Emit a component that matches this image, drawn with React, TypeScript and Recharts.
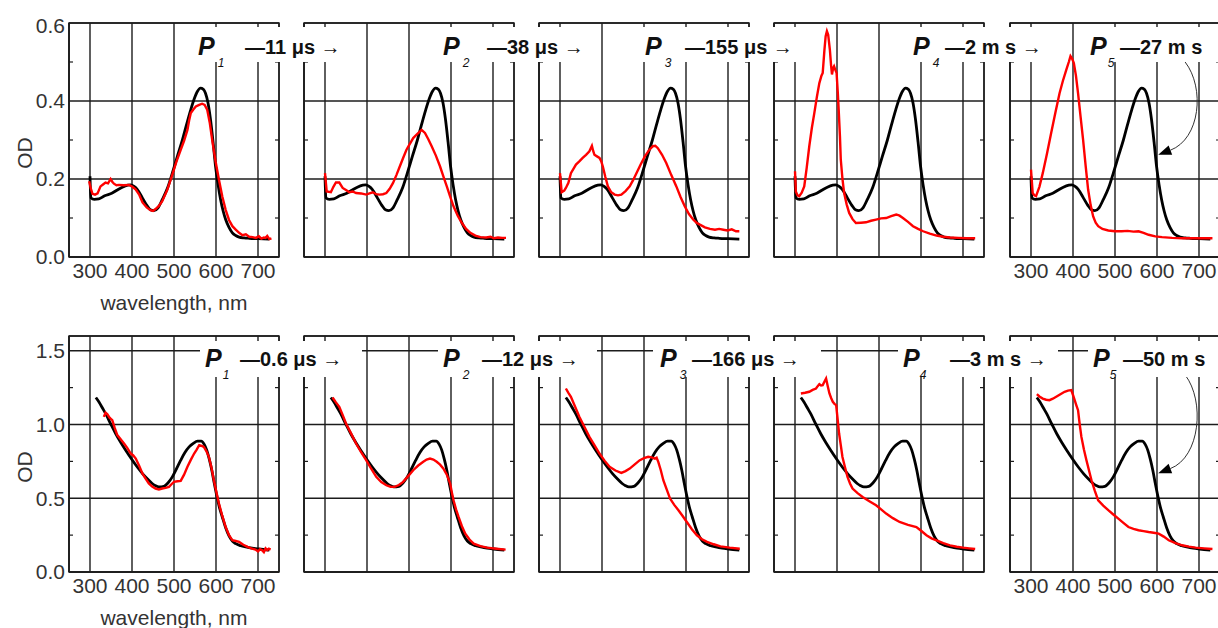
import React from 'react';
import {
  LineChart,
  Line,
  XAxis,
  YAxis,
  CartesianGrid,
  ReferenceArea,
  ReferenceLine,
} from 'recharts';

// ---------------- data ----------------
const wavelengthTicks = [300, 400, 500, 600, 700];
const topYTicks = [0, 0.2, 0.4, 0.6];
const bottomYTicks = [0, 0.5, 1.0, 1.5];
const topMinorTicks = [0.1, 0.3, 0.5];
const bottomMinorTicks = [0.25, 0.75, 1.25];

const productSubs = ['1', '2', '3', '4', '5'];
const topTimes = ['11 μs →', '38 μs →', '155 μs →', '2 m s →', '27 m s'];
const bottomTimes = ['0.6 μs →', '12 μs →', '166 μs →', '3 m s →', '50 m s'];

// reference (black) spectrum, top row
const blackTop = [
  [300, 0.207], [302, 0.152], [310, 0.148], [321, 0.149], [335, 0.157], [353, 0.164],
  [365, 0.172], [377, 0.179], [390, 0.184], [397, 0.185], [405, 0.181], [412, 0.174],
  [425, 0.151], [435, 0.133], [444, 0.121], [452, 0.119], [462, 0.126], [472, 0.147],
  [485, 0.178], [496, 0.215], [508, 0.258], [520, 0.3], [530, 0.34], [540, 0.378],
  [548, 0.405], [556, 0.425], [563, 0.433], [570, 0.43], [575, 0.42], [581, 0.395],
  [587, 0.352], [593, 0.295], [599, 0.232], [605, 0.185], [611, 0.147], [617, 0.118],
  [623, 0.096], [631, 0.076], [639, 0.062], [647, 0.055], [655, 0.051], [667, 0.049],
  [679, 0.048], [700, 0.047], [727, 0.046],
];

// reference (black) spectrum, bottom row
const blackBottom = [
  [314, 1.183], [321, 1.154], [330, 1.11], [337, 1.075], [350, 1.0], [361, 0.939],
  [373, 0.88], [385, 0.826], [401, 0.758], [413, 0.71], [425, 0.667], [437, 0.63],
  [448, 0.6], [456, 0.585], [464, 0.577], [476, 0.581], [486, 0.605], [496, 0.645],
  [506, 0.7], [516, 0.758], [526, 0.81], [536, 0.848], [546, 0.872], [556, 0.887],
  [565, 0.887], [572, 0.865], [578, 0.826], [584, 0.765], [590, 0.69], [596, 0.6],
  [602, 0.515], [608, 0.44], [615, 0.373], [623, 0.3], [631, 0.245], [639, 0.21],
  [647, 0.192], [659, 0.178], [671, 0.17], [686, 0.162], [702, 0.156], [727, 0.148],
];

// transient (red) spectra, top row
const redTop1 = [
  [298, 0.194], [302, 0.175], [306, 0.162], [312, 0.16], [318, 0.163], [325, 0.181],
  [331, 0.186], [337, 0.191], [343, 0.189], [349, 0.2], [353, 0.193], [357, 0.188],
  [363, 0.184], [369, 0.185], [380, 0.184], [393, 0.185], [401, 0.18], [409, 0.173],
  [417, 0.16], [425, 0.14], [435, 0.127], [444, 0.12], [450, 0.118], [456, 0.123],
  [464, 0.131], [472, 0.143], [484, 0.172], [496, 0.211], [506, 0.245], [516, 0.275],
  [524, 0.298], [532, 0.326], [536, 0.35], [540, 0.369], [546, 0.378], [552, 0.386],
  [560, 0.39], [567, 0.393], [573, 0.39], [579, 0.378], [585, 0.345], [591, 0.3],
  [599, 0.245], [607, 0.198], [615, 0.155], [623, 0.121], [631, 0.095], [639, 0.079],
  [647, 0.07], [655, 0.062], [663, 0.056], [671, 0.058], [679, 0.052], [687, 0.051],
  [695, 0.049], [702, 0.053], [708, 0.047], [714, 0.05], [718, 0.049], [722, 0.054],
  [727, 0.046], [732, 0.048],
];
const redTop2 = [
  [300, 0.215], [304, 0.168], [314, 0.166], [320, 0.18], [326, 0.191], [334, 0.191],
  [342, 0.177], [350, 0.172], [358, 0.166], [366, 0.168], [374, 0.164], [386, 0.163],
  [398, 0.16], [406, 0.163], [414, 0.166], [422, 0.161], [430, 0.16], [438, 0.161],
  [446, 0.164], [454, 0.175], [462, 0.19], [470, 0.21], [478, 0.232], [486, 0.254],
  [494, 0.275], [502, 0.29], [510, 0.305], [520, 0.316], [530, 0.326], [538, 0.318],
  [546, 0.302], [554, 0.284], [564, 0.26], [574, 0.232], [582, 0.206], [590, 0.181],
  [598, 0.155], [606, 0.13], [616, 0.106], [626, 0.087], [636, 0.072], [646, 0.062],
  [658, 0.055], [670, 0.051], [684, 0.05], [694, 0.052], [702, 0.048], [712, 0.05],
  [722, 0.049], [731, 0.049],
];
const redTop3 = [
  [300, 0.215], [304, 0.166], [310, 0.17], [314, 0.177], [320, 0.19], [326, 0.215],
  [332, 0.226], [338, 0.237], [346, 0.245], [354, 0.254], [362, 0.262], [370, 0.271],
  [376, 0.285], [379, 0.272], [382, 0.262], [388, 0.258], [394, 0.254], [398, 0.246],
  [402, 0.232], [408, 0.205], [414, 0.181], [422, 0.166], [430, 0.16], [438, 0.158],
  [446, 0.16], [456, 0.169], [466, 0.181], [474, 0.197], [482, 0.215], [492, 0.237],
  [502, 0.258], [512, 0.274], [521, 0.284], [527, 0.285], [533, 0.279], [543, 0.262],
  [553, 0.241], [565, 0.21], [577, 0.181], [587, 0.154], [597, 0.13], [607, 0.11],
  [617, 0.096], [625, 0.088], [633, 0.083], [645, 0.076], [657, 0.072], [669, 0.07],
  [679, 0.072], [689, 0.07], [699, 0.068], [709, 0.071], [719, 0.066], [727, 0.066],
];
const redTop4 = [
  [300, 0.22], [302, 0.168], [306, 0.158], [310, 0.156], [316, 0.165], [322, 0.181],
  [328, 0.23], [334, 0.284], [340, 0.33], [346, 0.369], [352, 0.41], [358, 0.446],
  [363, 0.465], [366, 0.472], [370, 0.53], [373, 0.566], [376, 0.579], [379, 0.57],
  [383, 0.532], [386, 0.49], [388, 0.468], [391, 0.485], [393, 0.489], [396, 0.48],
  [399, 0.472], [402, 0.42], [404, 0.378], [407, 0.31], [409, 0.25], [413, 0.2],
  [417, 0.164], [423, 0.135], [429, 0.113], [437, 0.097], [445, 0.087], [457, 0.088],
  [469, 0.089], [481, 0.093], [493, 0.096], [505, 0.099], [517, 0.1], [529, 0.105],
  [541, 0.109], [549, 0.106], [557, 0.1], [569, 0.09], [581, 0.079], [593, 0.072],
  [605, 0.066], [621, 0.06], [637, 0.055], [653, 0.052], [669, 0.05], [689, 0.049],
  [709, 0.048], [729, 0.048],
];
const redTop5 = [
  [300, 0.224], [304, 0.164], [308, 0.158], [312, 0.156], [320, 0.18], [328, 0.215],
  [338, 0.265], [348, 0.318], [358, 0.37], [368, 0.42], [376, 0.452], [384, 0.48],
  [390, 0.5], [394, 0.515], [398, 0.508], [402, 0.497], [407, 0.465], [412, 0.42],
  [418, 0.36], [424, 0.301], [430, 0.235], [436, 0.173], [442, 0.133], [448, 0.104],
  [454, 0.088], [460, 0.079], [470, 0.072], [484, 0.068], [500, 0.066], [516, 0.066],
  [530, 0.067], [544, 0.065], [556, 0.066], [568, 0.062], [580, 0.057], [596, 0.053],
  [612, 0.051], [636, 0.049], [660, 0.048], [690, 0.048], [712, 0.048], [732, 0.048],
];

// transient (red) spectra, bottom row
const redBottom1 = [
  [333, 1.052], [337, 1.08], [341, 1.07], [347, 1.045], [353, 1.029], [359, 0.975],
  [365, 0.928], [373, 0.9], [381, 0.871], [389, 0.84], [397, 0.803], [403, 0.79],
  [409, 0.769], [417, 0.72], [425, 0.667], [432, 0.635], [440, 0.6], [448, 0.58],
  [456, 0.566], [464, 0.56], [472, 0.566], [480, 0.57], [488, 0.577], [494, 0.595],
  [500, 0.611], [508, 0.615], [516, 0.618], [524, 0.66], [532, 0.713], [540, 0.76],
  [548, 0.803], [554, 0.83], [560, 0.86], [566, 0.855], [571, 0.848], [577, 0.82],
  [583, 0.781], [589, 0.71], [595, 0.622], [601, 0.54], [607, 0.464], [615, 0.38],
  [623, 0.305], [631, 0.25], [639, 0.215], [647, 0.21], [655, 0.204], [665, 0.185],
  [675, 0.17], [684, 0.16], [694, 0.152], [700, 0.14], [705, 0.155], [710, 0.147],
  [714, 0.135], [718, 0.16], [722, 0.148], [726, 0.158], [730, 0.152],
];
const redBottom2 = [
  [318, 1.183], [326, 1.15], [334, 1.12], [342, 1.065], [350, 1.007], [362, 0.94],
  [374, 0.871], [386, 0.812], [398, 0.758], [410, 0.7], [422, 0.645], [434, 0.61],
  [446, 0.588], [456, 0.578], [466, 0.577], [476, 0.59], [486, 0.611], [498, 0.65],
  [510, 0.69], [522, 0.722], [534, 0.747], [542, 0.762], [550, 0.769], [558, 0.762],
  [566, 0.747], [574, 0.728], [582, 0.701], [590, 0.66], [598, 0.6], [602, 0.54],
  [606, 0.486], [612, 0.425], [618, 0.373], [626, 0.31], [634, 0.26], [644, 0.22],
  [654, 0.192], [670, 0.175], [686, 0.165], [708, 0.158], [730, 0.152],
];
const redBottom3 = [
  [314, 1.244], [320, 1.215], [326, 1.188], [336, 1.12], [346, 1.052], [358, 0.985],
  [370, 0.916], [382, 0.86], [394, 0.803], [406, 0.755], [418, 0.713], [432, 0.688],
  [446, 0.672], [456, 0.684], [466, 0.701], [478, 0.73], [490, 0.758], [500, 0.772],
  [510, 0.781], [518, 0.777], [526, 0.769], [530, 0.775], [534, 0.747], [540, 0.69],
  [546, 0.622], [554, 0.56], [562, 0.498], [572, 0.455], [582, 0.419], [592, 0.38],
  [602, 0.339], [614, 0.29], [626, 0.249], [638, 0.222], [650, 0.204], [666, 0.188],
  [682, 0.174], [704, 0.165], [728, 0.158],
];
const redBottom4 = [
  [314, 1.21], [324, 1.215], [334, 1.222], [342, 1.235], [350, 1.244], [354, 1.26],
  [358, 1.274], [362, 1.265], [366, 1.267], [370, 1.29], [374, 1.312], [378, 1.26],
  [382, 1.21], [386, 1.18], [390, 1.154], [394, 1.14], [398, 1.131], [401, 1.05],
  [405, 0.939], [409, 0.86], [413, 0.78], [419, 0.71], [425, 0.645], [431, 0.6],
  [437, 0.566], [449, 0.535], [461, 0.509], [477, 0.48], [493, 0.452], [505, 0.425],
  [517, 0.396], [533, 0.365], [549, 0.339], [569, 0.32], [589, 0.305], [601, 0.278],
  [613, 0.249], [625, 0.228], [637, 0.215], [653, 0.196], [669, 0.181], [685, 0.171],
  [700, 0.165], [715, 0.16], [729, 0.156],
];
const redBottom5 = [
  [314, 1.206], [320, 1.19], [328, 1.176], [336, 1.168], [344, 1.165], [352, 1.175],
  [360, 1.188], [370, 1.205], [380, 1.222], [388, 1.23], [396, 1.233], [400, 1.2],
  [404, 1.165], [408, 1.13], [412, 1.097], [416, 1.0], [420, 0.916], [426, 0.83],
  [432, 0.758], [438, 0.69], [444, 0.622], [452, 0.55], [460, 0.486], [472, 0.45],
  [484, 0.419], [496, 0.39], [508, 0.362], [520, 0.333], [532, 0.305], [544, 0.292],
  [556, 0.283], [568, 0.277], [580, 0.271], [592, 0.266], [604, 0.26], [616, 0.24],
  [628, 0.215], [644, 0.196], [660, 0.181], [676, 0.172], [692, 0.165], [712, 0.16],
  [732, 0.156],
];

// ---------------- helpers ----------------
type Pt = { wl: number; od: number };
const toPts = (a: number[][]): Pt[] => a.map(([wl, od]) => ({ wl, od }));

const FONT = '"Liberation Sans", Arial, Helvetica, sans-serif';
const GRID = '#1c1c1c';
const PLOT_W = 210;
const ML = 65;
const MR = 12;
const MT = 10;
const XH = 62;

const HiddenTick = () => <g />;

const ArrowShape = (props: any) => {
  const { x1, y1, x2, y2 } = props;
  if (x1 == null || y1 == null || x2 == null || y2 == null) return null;
  const c1x = x1 + 20;
  const c1y = y1 + 26;
  const c2x = x2 + 42;
  const c2y = y2 - 16;
  const dx = x2 - c2x;
  const dy = y2 - c2y;
  const len = Math.hypot(dx, dy) || 1;
  const ux = dx / len;
  const uy = dy / len;
  const hl = 13;
  const hw = 5;
  const bx = x2 - ux * hl;
  const by = y2 - uy * hl;
  const px = -uy;
  const py = ux;
  return (
    <g>
      <path
        d={`M${x1},${y1} C${c1x},${c1y} ${c2x},${c2y} ${bx},${by}`}
        fill="none"
        stroke="#333"
        strokeWidth={1}
      />
      <polygon
        points={`${x2},${y2} ${bx + px * hw},${by + py * hw} ${bx - px * hw},${by - py * hw}`}
        fill="#000"
      />
    </g>
  );
};

type PanelProps = {
  left: number;
  top: number;
  plotH: number;
  domainY: [number, number];
  yTicks: number[];
  minor: number[];
  black: Pt[];
  red: Pt[];
  showY: boolean;
  showX: boolean;
  showXLabel: boolean;
  arrow?: { x1: number; y1: number; x2: number; y2: number };
};

function Panel(p: PanelProps) {
  const tickStyle = { fontSize: 21, fill: '#333', fontFamily: FONT };
  return (
    <div style={{ position: 'absolute', left: p.left - ML, top: p.top - MT }}>
      <LineChart
        width={ML + PLOT_W + MR}
        height={MT + p.plotH + XH}
        margin={{ top: MT, right: MR, left: 0, bottom: 0 }}
      >
        <CartesianGrid stroke={GRID} strokeWidth={1.4} />
        <XAxis
          dataKey="wl"
          type="number"
          domain={[250, 750]}
          ticks={wavelengthTicks}
          allowDataOverflow
          height={XH}
          tickSize={0}
          tickMargin={6}
          tick={p.showX ? tickStyle : HiddenTick}
          axisLine={{ stroke: GRID, strokeWidth: 1.4 }}
          label={
            p.showXLabel
              ? {
                  content: (lp: any) => {
                    const vb = lp.viewBox || {};
                    return (
                      <text
                        x={vb.x + vb.width / 2}
                        y={vb.y + 53}
                        textAnchor="middle"
                        fontSize={21}
                        fill="#333"
                        fontFamily={FONT}
                      >
                        wavelength, nm
                      </text>
                    );
                  },
                }
              : undefined
          }
        />
        <YAxis
          type="number"
          domain={p.domainY}
          ticks={p.yTicks}
          allowDataOverflow
          width={ML}
          tickSize={0}
          tickMargin={4}
          tick={p.showY ? tickStyle : HiddenTick}
          tickFormatter={(v: number) => v.toFixed(1)}
          axisLine={{ stroke: GRID, strokeWidth: 1.4 }}
          label={
            p.showY
              ? {
                  content: (lp: any) => {
                    const vb = lp.viewBox || {};
                    const cx = vb.x + 20;
                    const cy = vb.y + vb.height / 2 + 13;
                    return (
                      <text
                        x={cx}
                        y={cy}
                        transform={`rotate(-90 ${cx} ${cy})`}
                        textAnchor="middle"
                        dominantBaseline="central"
                        fontSize={21}
                        fill="#333"
                        fontFamily={FONT}
                      >
                        OD
                      </text>
                    );
                  },
                }
              : undefined
          }
        />
        <YAxis
          yAxisId="minorL"
          type="number"
          domain={p.domainY}
          ticks={p.minor}
          allowDataOverflow
          mirror
          tickSize={4}
          tick={HiddenTick}
          tickLine={{ stroke: GRID, strokeWidth: 1.2 }}
          axisLine={false}
        />
        <YAxis
          yAxisId="minorR"
          orientation="right"
          type="number"
          domain={p.domainY}
          ticks={p.minor}
          allowDataOverflow
          mirror
          tickSize={4}
          tick={HiddenTick}
          tickLine={{ stroke: GRID, strokeWidth: 1.2 }}
          axisLine={false}
        />
        <ReferenceArea
          x1={250}
          x2={750}
          y1={p.domainY[0]}
          y2={p.domainY[1]}
          fill="none"
          fillOpacity={0}
          stroke={GRID}
          strokeWidth={1.4}
        />
        <Line
          data={p.black}
          dataKey="od"
          type="monotone"
          stroke="#000"
          strokeWidth={2.8}
          dot={false}
          isAnimationActive={false}
        />
        <Line
          data={p.red}
          dataKey="od"
          type="linear"
          stroke="#ff0000"
          strokeWidth={2.4}
          dot={false}
          isAnimationActive={false}
        />
        {p.arrow && (
          <ReferenceLine
            segment={[
              { x: p.arrow.x1, y: p.arrow.y1 },
              { x: p.arrow.x2, y: p.arrow.y2 },
            ]}
            ifOverflow="visible"
            shape={ArrowShape}
          />
        )}
      </LineChart>
    </div>
  );
}

const PANEL_LEFTS = [69, 304, 539, 774, 1010];
const TOP_ROW = { top: 23, h: 234 };
const BOTTOM_ROW = { top: 336, h: 236 };

const topReds = [redTop1, redTop2, redTop3, redTop4, redTop5].map(toPts);
const bottomReds = [redBottom1, redBottom2, redBottom3, redBottom4, redBottom5].map(toPts);
const blackTopPts = toPts(blackTop);
const blackBottomPts = toPts(blackBottom);

// label layout: [pX, subDx, textX, boxLeft, boxRight]
const topLabelLayout = [
  [198, 3, 245, 185, 350],
  [443, 3, 487, 420, 590],
  [645, 3, 685, 615, 802],
  [913, 3, 945, 890, 1050],
  [1090, 1, 1120, 1078, 1218],
];
const bottomLabelLayout = [
  [205, 1, 240, 200, 362],
  [443, 3, 482, 438, 597],
  [660, 3, 692, 653, 821],
  [903, 0, 950, 898, 1058],
  [1093, 0, 1123, 1088, 1218],
];

function Labels({
  layout,
  times,
  boxTop,
  boxBottom,
  pBase,
  tBase,
}: {
  layout: number[][];
  times: string[];
  boxTop: number;
  boxBottom: number;
  pBase: number;
  tBase: number;
}) {
  return (
    <g>
      {layout.map(([px, sdx, tx, bl, br], i) => (
        <g key={i}>
          <rect x={bl} y={boxTop} width={br - bl} height={boxBottom - boxTop} fill="#fff" />
          <text x={px} y={pBase} fill="#111" fontFamily={FONT}>
            <tspan fontSize={25} fontWeight="bold" fontStyle="italic">
              P
            </tspan>
            <tspan fontSize={12} fontStyle="italic" dx={sdx} dy={12}>
              {productSubs[i]}
            </tspan>
          </text>
          <text x={tx} y={tBase} fontSize={20} fontWeight="bold" fill="#111" fontFamily={FONT}>
            {'\u2014' + times[i]}
          </text>
        </g>
      ))}
    </g>
  );
}

export default function App() {
  return (
    <div
      style={{
        position: 'absolute',
        left: 0,
        top: 0,
        width: 1218,
        height: 628,
        overflow: 'hidden',
        background: '#fff',
        fontFamily: FONT,
      }}
    >
      {PANEL_LEFTS.map((left, i) => (
        <Panel
          key={'t' + i}
          left={left}
          top={TOP_ROW.top}
          plotH={TOP_ROW.h}
          domainY={[0, 0.6]}
          yTicks={topYTicks}
          minor={topMinorTicks}
          black={blackTopPts}
          red={topReds[i]}
          showY={i === 0}
          showX={i === 0 || i === 4}
          showXLabel={i === 0}
          arrow={i === 4 ? { x1: 667, y1: 0.5, x2: 603, y2: 0.262 } : undefined}
        />
      ))}
      {PANEL_LEFTS.map((left, i) => (
        <Panel
          key={'b' + i}
          left={left}
          top={BOTTOM_ROW.top}
          plotH={BOTTOM_ROW.h}
          domainY={[0, 1.6]}
          yTicks={bottomYTicks}
          minor={bottomMinorTicks}
          black={blackBottomPts}
          red={bottomReds[i]}
          showY={i === 0}
          showX={i === 0 || i === 4}
          showXLabel={i === 0}
          arrow={i === 4 ? { x1: 667, y1: 1.336, x2: 603, y2: 0.67 } : undefined}
        />
      ))}
      <svg
        width={1218}
        height={628}
        style={{ position: 'absolute', left: 0, top: 0, pointerEvents: 'none' }}
      >
        <Labels
          layout={topLabelLayout}
          times={topTimes}
          boxTop={27}
          boxBottom={62}
          pBase={55}
          tBase={54}
        />
        <Labels
          layout={bottomLabelLayout}
          times={bottomTimes}
          boxTop={341}
          boxBottom={377}
          pBase={367}
          tBase={366}
        />
      </svg>
    </div>
  );
}
